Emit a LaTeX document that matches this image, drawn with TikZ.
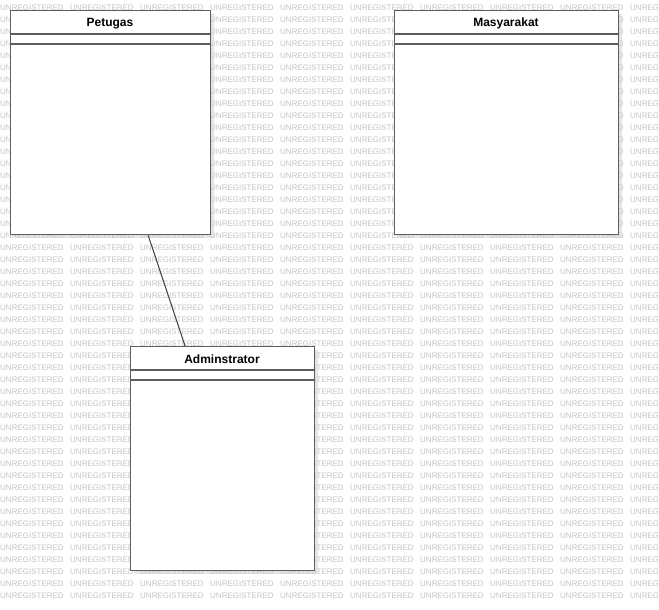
\documentclass[tikz,border=0pt]{standalone}
\usepackage{fontspec}
\setmainfont{Liberation Sans}
\begin{document}
\begin{tikzpicture}[x=1pt,y=-1pt,
  cls/.style={draw=boxline, line width=1.3pt, fill=white, rectangle, inner sep=0pt, anchor=north west},
  shadowbox/.style={fill=shadowc, draw=none},
  title/.style={font=\bfseries\fontsize{12}{14}\selectfont, text=black, inner sep=0pt, anchor=base},
  sep/.style={draw=boxline, line width=1.3pt},
  conn/.style={draw=linec, line width=1pt},
  wm/.style={font=\fontsize{8}{9}\selectfont, text=wmc, inner sep=0pt, anchor=west}
]
\definecolor{boxline}{HTML}{5E5E5E}
\definecolor{shadowc}{HTML}{E6E6E6}
\definecolor{wmc}{HTML}{C4C4C4}
\definecolor{linec}{HTML}{404040}
\useasboundingbox (0,0) rectangle (659,610);
\fill[white] (0,0) rectangle (659,610);
% shadows
\fill[shadowbox] (14,14) rectangle (214,238);
\fill[shadowbox] (398,14) rectangle (622,238);
\fill[shadowbox] (134,350) rectangle (318,574);
% watermark (copies hidden entirely under a box are left out)
\foreach \r in {0,...,49}{
  \foreach \c in {0,...,9}{
    \pgfmathtruncatemacro\xa{\c*70}
    \pgfmathtruncatemacro\ya{8+\r*12}
    \pgfmathtruncatemacro\inside{((\xa>=10)&&(\xa+63<=210)&&(\ya>=16)&&(\ya<=228))||((\xa>=394)&&(\xa+63<=618)&&(\ya>=16)&&(\ya<=228))||((\xa>=130)&&(\xa+63<=314)&&(\ya>=352)&&(\ya<=564))}
    \ifnum\inside=0
      \ifnum\c=9
        \node[wm] (wm-\r-\c) at (\xa,\ya) {UNREG};
      \else
        \node[wm] (wm-\r-\c) at (\xa,\ya) {UNREGISTERED};
      \fi
    \fi
  }
}
% classes
\node[cls, minimum width=200pt, minimum height=224pt] (pet) at (10,10) {};
\node[cls, minimum width=224pt, minimum height=224pt] (mas) at (394,10) {};
\node[cls, minimum width=184pt, minimum height=224pt] (adm) at (130,346) {};
\node[title] (petT) at (110,27) {Petugas};
\node[title] (masT) at (506,27) {Masyarakat};
\node[title] (admT) at (222,363) {Adminstrator};
\draw[sep] ([yshift=-24pt]pet.north west) -- ([yshift=-24pt]pet.north east);
\draw[sep] ([yshift=-34pt]pet.north west) -- ([yshift=-34pt]pet.north east);
\draw[sep] ([yshift=-24pt]mas.north west) -- ([yshift=-24pt]mas.north east);
\draw[sep] ([yshift=-34pt]mas.north west) -- ([yshift=-34pt]mas.north east);
\draw[sep] ([yshift=-24pt]adm.north west) -- ([yshift=-24pt]adm.north east);
\draw[sep] ([yshift=-34pt]adm.north west) -- ([yshift=-34pt]adm.north east);
\draw[conn] (pet) -- (adm);
\end{tikzpicture}
\end{document}
